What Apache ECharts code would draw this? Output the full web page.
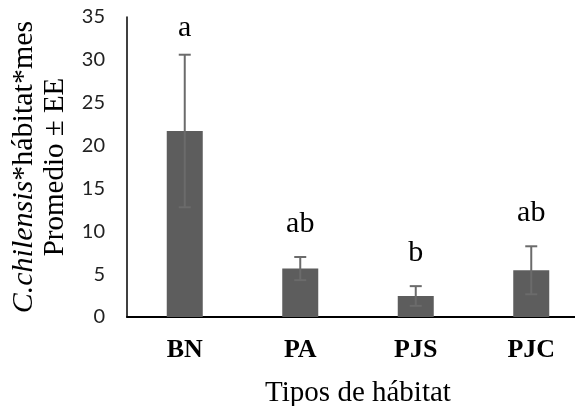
<!DOCTYPE html>
<html>
<head>
<meta charset="utf-8">
<script src="https://cdn.jsdelivr.net/npm/echarts@6/dist/echarts.min.js"></script>
<style>
  html, body { margin: 0; padding: 0; background: #fff; }
  #chart { width: 575px; height: 406px; }
</style>
</head>
<body>
<div id="chart"></div>
<script>
// ---- data ----
const categories = ['BN', 'PA', 'PJS', 'PJC'];
const means = [21.7, 5.65, 2.45, 5.45];
const errors = [8.9, 1.35, 1.15, 2.8];
const letters = ['a', 'ab', 'b', 'ab'];
const yMin = 0, yMax = 35, yStep = 5;

const serif = 'Liberation Serif, Times New Roman, serif';
const errData = categories.map((c, i) => [i, means[i] - errors[i], means[i] + errors[i]]);

const chart = echarts.init(document.getElementById('chart'), null, { renderer: 'canvas' });
chart.setOption({
  animation: false,
  backgroundColor: '#ffffff',
  grid: { left: 127, top: 17, bottom: 89, right: -14, containLabel: false, outerBoundsMode: 'none' },
  xAxis: {
    type: 'category',
    data: categories,
    axisLine: { show: true, lineStyle: { color: '#000', width: 2 } },
    axisTick: { show: false },
    axisLabel: { fontFamily: serif, fontWeight: 'bold', fontSize: 26, color: '#000', margin: 20 },
    name: 'Tipos de hábitat',
    nameLocation: 'middle',
    nameGap: 62,
    nameTextStyle: { fontFamily: serif, fontSize: 29, color: '#000' }
  },
  yAxis: {
    type: 'value',
    min: yMin, max: yMax, interval: yStep,
    axisLine: { show: true, lineStyle: { color: '#000', width: 1.5 } },
    axisTick: { show: false },
    splitLine: { show: false },
    axisLabel: { fontFamily: 'Lato, sans-serif', fontSize: 20, color: '#222', margin: 22 },
    name: '{i|C.chilensis}{n|*hábitat*mes}\n{p|Promedio ± EE}',
    nameLocation: 'middle',
    nameRotate: 90,
    nameGap: 53,
    nameTextStyle: {
      fontFamily: serif, fontSize: 30, color: '#000', lineHeight: 31,
      rich: {
        i: { fontFamily: serif, fontSize: 30, fontStyle: 'italic', color: '#000', lineHeight: 31 },
        n: { fontFamily: serif, fontSize: 30, color: '#000', lineHeight: 31 },
        p: { fontFamily: serif, fontSize: 29, color: '#000', lineHeight: 31 }
      }
    }
  },
  series: [
    {
      type: 'bar',
      data: means,
      barWidth: 36,
      itemStyle: { color: '#5d5d5d' }
    },
    {
      type: 'custom',
      data: errData,
      z: 5,
      renderItem: function (params, api) {
        const x = api.value(0);
        const lo = api.coord([x, api.value(1)]);
        const hi = api.coord([x, api.value(2)]);
        const cap = 6;
        const style = { stroke: '#6b6b6b', lineWidth: 2 };
        const top = params.coordSys.y;
        const letterY = Math.max(hi[1] - 18, top + 26);
        return {
          type: 'group',
          children: [
            { type: 'line', shape: { x1: hi[0], y1: hi[1], x2: lo[0], y2: lo[1] }, style: style },
            { type: 'line', shape: { x1: hi[0] - cap, y1: hi[1], x2: hi[0] + cap, y2: hi[1] }, style: style },
            { type: 'line', shape: { x1: lo[0] - cap, y1: lo[1], x2: lo[0] + cap, y2: lo[1] }, style: style },
            { type: 'text', style: { text: letters[params.dataIndex], x: hi[0], y: letterY,
                align: 'center', verticalAlign: 'bottom', fontFamily: serif, fontSize: 30, fill: '#000' } }
          ]
        };
      }
    }
  ]
});
</script>
</body>
</html>
